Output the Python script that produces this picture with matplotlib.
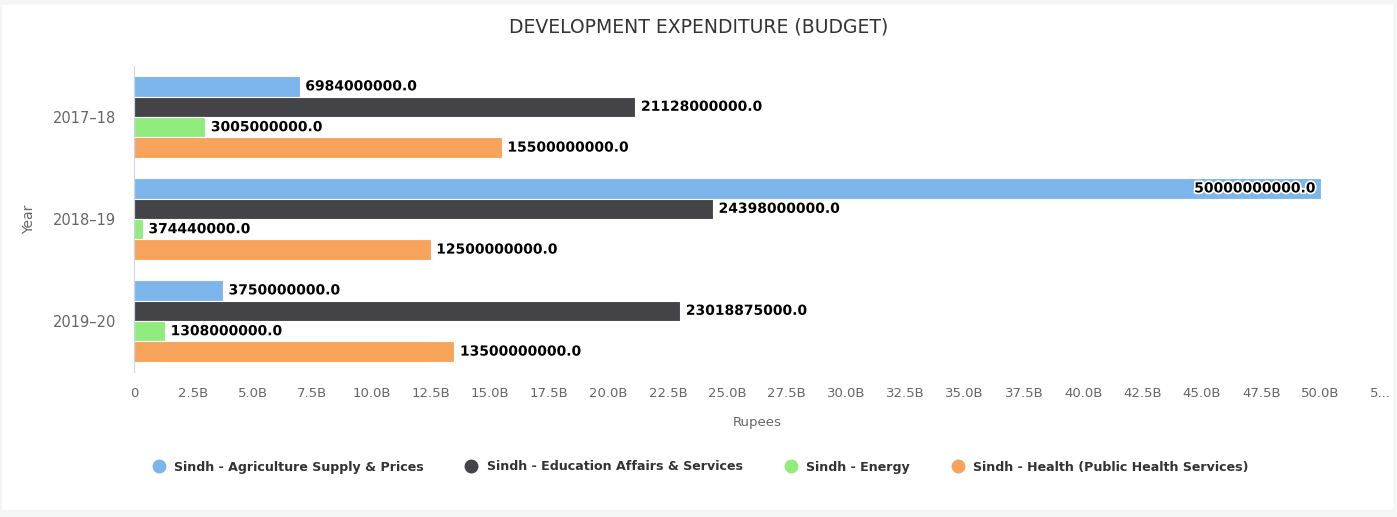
#!/usr/bin/env python3
"""Development expenditure (budget) per year, horizontal grouped bars."""

import numpy as np
import matplotlib.pyplot as plt
import matplotlib.patheffects as pe
from matplotlib.lines import Line2D
from matplotlib.patches import Rectangle

YEARS = ["2017–18", "2018–19", "2019–20"]

SERIES = [
    "Sindh - Agriculture Supply & Prices",
    "Sindh - Education Affairs & Services",
    "Sindh - Energy",
    "Sindh - Health (Public Health Services)",
]

AGRICULTURE = [6984000000.0, 50000000000.0, 3750000000.0]
EDUCATION = [21128000000.0, 24398000000.0, 23018875000.0]
ENERGY = [3005000000.0, 374440000.0, 1308000000.0]
HEALTH = [15500000000.0, 12500000000.0, 13500000000.0]

COLORS = ["#7cb5ec", "#434348", "#90ed7d", "#f7a35c"]
TEXT = "#333333"
AXIS_TEXT = "#666666"

XMAX = 52.5e9
XTICKS = np.arange(0, XMAX + 1, 2.5e9)

W, H = 1397, 517


def tick_label(v):
    if v == 0:
        return "0"
    if v >= XMAX:
        return "5..."
    return f"{v / 1e9:.1f}B"


def main():
    fig = plt.figure(figsize=(W / 100, H / 100), dpi=100, facecolor="#f4f5f5")
    # white card on light grey page
    fig.patches.append(Rectangle((2 / W, 7 / H), 1391 / W, 505 / H,
                                 transform=fig.transFigure, facecolor="white",
                                 edgecolor="none", zorder=-10))

    ax = fig.add_axes([134 / W, 145 / H, 1246 / W, 306 / H])
    ax.set_facecolor("white")

    values = [AGRICULTURE, EDUCATION, ENERGY, HEALTH]
    y = np.arange(len(YEARS))
    h = 0.2
    offsets = [-0.3, -0.1, 0.1, 0.3]
    outline = [pe.withStroke(linewidth=2.5, foreground="white")]

    for vals, off, color in zip(values, offsets, COLORS):
        bars = ax.barh(y + off, vals, height=h, color=color,
                       edgecolor="white", linewidth=0.8)
        for bar, v in zip(bars, vals):
            cy = bar.get_y() + bar.get_height() / 2
            inside = v > 0.9 * XMAX
            ax.annotate(f"{v:.1f}", (v, cy),
                        xytext=(-4 if inside else 4, 0), textcoords="offset points",
                        ha="right" if inside else "left", va="center",
                        fontsize=10, fontweight="bold", color="black",
                        path_effects=outline)

    ax.set_xlim(0, XMAX)
    ax.set_ylim(2.5, -0.5)
    ax.set_xticks(XTICKS)
    ax.set_xticklabels([tick_label(v) for v in XTICKS])
    ax.set_yticks(y)
    ax.set_yticklabels(YEARS)
    ax.tick_params(axis="both", length=0, colors=AXIS_TEXT)
    ax.tick_params(axis="x", pad=11, labelsize=9.5)
    ax.tick_params(axis="y", pad=13, labelsize=10.5)

    for side in ["top", "right", "bottom"]:
        ax.spines[side].set_visible(False)
    ax.spines["left"].set_color("#ccd6eb")

    ax.set_xlabel("Rupees", fontsize=9.5, color=AXIS_TEXT, labelpad=11)
    ax.set_ylabel("Year", fontsize=10, color=AXIS_TEXT, labelpad=12)

    fig.text(0.5, 1 - 27 / H, "DEVELOPMENT EXPENDITURE (BUDGET)",
             ha="center", va="center", fontsize=13.5, color=TEXT)

    handles = [Line2D([], [], marker="o", linestyle="none", markersize=9,
                      markerfacecolor=c, markeredgecolor=c) for c in COLORS]
    fig.legend(handles, SERIES, loc="center", ncol=4, frameon=False,
               bbox_to_anchor=(0.499, 1 - 467 / H), handletextpad=0.2,
               columnspacing=2.8, prop={"size": 9.1, "weight": "bold"},
               labelcolor=TEXT)

    fig.savefig("out.png", dpi=100, facecolor=fig.get_facecolor())


if __name__ == "__main__":
    main()
